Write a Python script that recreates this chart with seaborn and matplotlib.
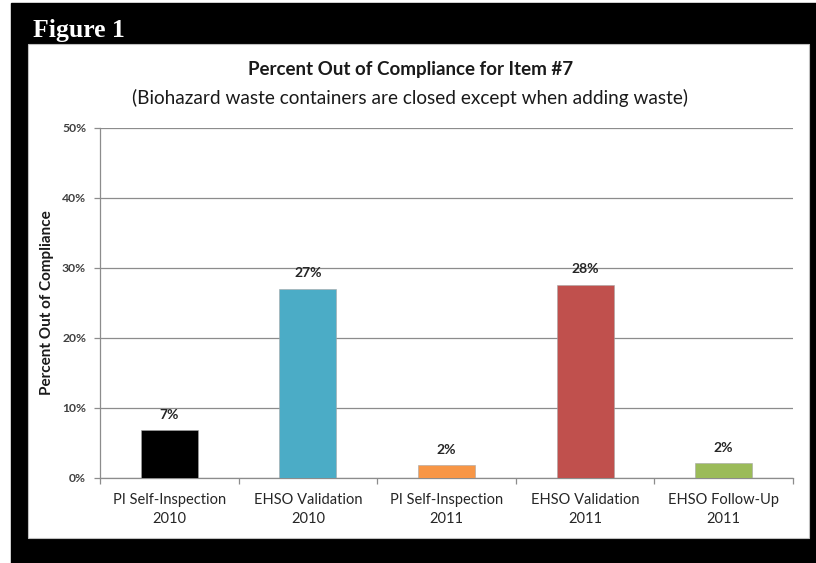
import numpy as np
import pandas as pd
import matplotlib
matplotlib.use("Agg")
import matplotlib.pyplot as plt
from matplotlib.patches import Rectangle
from matplotlib.ticker import FuncFormatter, FixedLocator
import seaborn as sns

# values
groups = ["PI Self-Inspection\n2010", "EHSO Validation\n2010", "PI Self-Inspection\n2011",
          "EHSO Validation\n2011", "EHSO Follow-Up\n2011"]
pct_out = [6.8, 27.0, 1.8, 27.6, 2.1]
bar_labels = ["7%", "27%", "2%", "28%", "2%"]
bar_colors = ["#000000", "#4BACC6", "#F79646", "#C0504D", "#9BBB59"]
y_ticks = [0, 10, 20, 30, 40, 50]

df = pd.DataFrame({"group": groups, "pct": pct_out})

sns.set_theme(style="white")
plt.rcParams["font.family"] = ["Lato", "DejaVu Sans"]

W, H = 816, 563
fig = plt.figure(figsize=(W / 100, H / 100), dpi=100, facecolor="white")

# black frame and white panel
fig.patches.append(Rectangle((11 / W, 0), (W - 11) / W, (563 - 3) / H,
                             transform=fig.transFigure, color="black", zorder=-2))
fig.patches.append(Rectangle((28 / W, 1 - 538 / H), (809 - 28) / W, (538 - 44) / H,
                             transform=fig.transFigure, facecolor="white",
                             edgecolor="#BFBFBF", lw=0.8, zorder=-1))

fig.text(33 / W, 1 - 31 / H, "Figure 1", color="white", fontsize=18.5, fontweight="bold",
         family="Liberation Serif", va="center", ha="left")

ax = fig.add_axes([100 / W, 1 - 478 / H, (793 - 100) / W, (478 - 128) / H])
sns.barplot(data=df, x="group", y="pct", hue="group", palette=bar_colors, legend=False,
            saturation=1, width=0.41, edgecolor="#A6A6A6", linewidth=0.4, ax=ax, zorder=3)

for cont, lab in zip(ax.containers, bar_labels):
    ax.bar_label(cont, labels=[lab], padding=7, fontsize=10, fontweight="bold", color="#262626")

ax.set_ylim(0, 50)
ax.set_xlim(-0.5, len(groups) - 0.5)
ax.yaxis.set_major_locator(FixedLocator(y_ticks))
ax.yaxis.set_major_formatter(FuncFormatter(lambda v, p: f"{v:.0f}%"))
ax.grid(axis="y", color="#8C8C8C", lw=0.9, zorder=0)
ax.set_axisbelow(True)

for s in ["top", "right"]:
    ax.spines[s].set_visible(False)
for s in ["left", "bottom"]:
    ax.spines[s].set_color("#8C8C8C")
    ax.spines[s].set_linewidth(0.9)

ax.tick_params(axis="y", which="major", left=True, length=4, width=0.9, color="#8C8C8C",
               labelsize=8.7, labelcolor="#404040", pad=6)
for t in ax.get_yticklabels():
    t.set_fontweight("bold")
ax.tick_params(axis="x", which="major", bottom=False, labelsize=10.5, labelcolor="#262626", pad=5)
for t in ax.get_xticklabels():
    t.set_linespacing(1.45)
ax.xaxis.set_minor_locator(FixedLocator(np.arange(len(groups) + 1) - 0.5))
ax.tick_params(axis="x", which="minor", bottom=True, length=4, width=0.9, color="#8C8C8C")
ax.set_xlabel("")
ax.set_ylabel("Percent Out of Compliance", fontsize=11, fontweight="bold", color="#1A1A1A")
ax.yaxis.label.set_va("center")
ax.yaxis.set_label_coords((47 - 100) / 693, 0.5)

fig.text(411 / W, 1 - 70 / H, "Percent Out of Compliance for Item #7", ha="center",
         va="center", fontsize=13.5, fontweight="bold", color="#1A1A1A")
fig.text(410 / W, 1 - 98 / H, "(Biohazard waste containers are closed except when adding waste)",
         ha="center", va="center", fontsize=13.7, color="#1A1A1A")

fig.savefig("out.png", dpi=100, facecolor="white")
